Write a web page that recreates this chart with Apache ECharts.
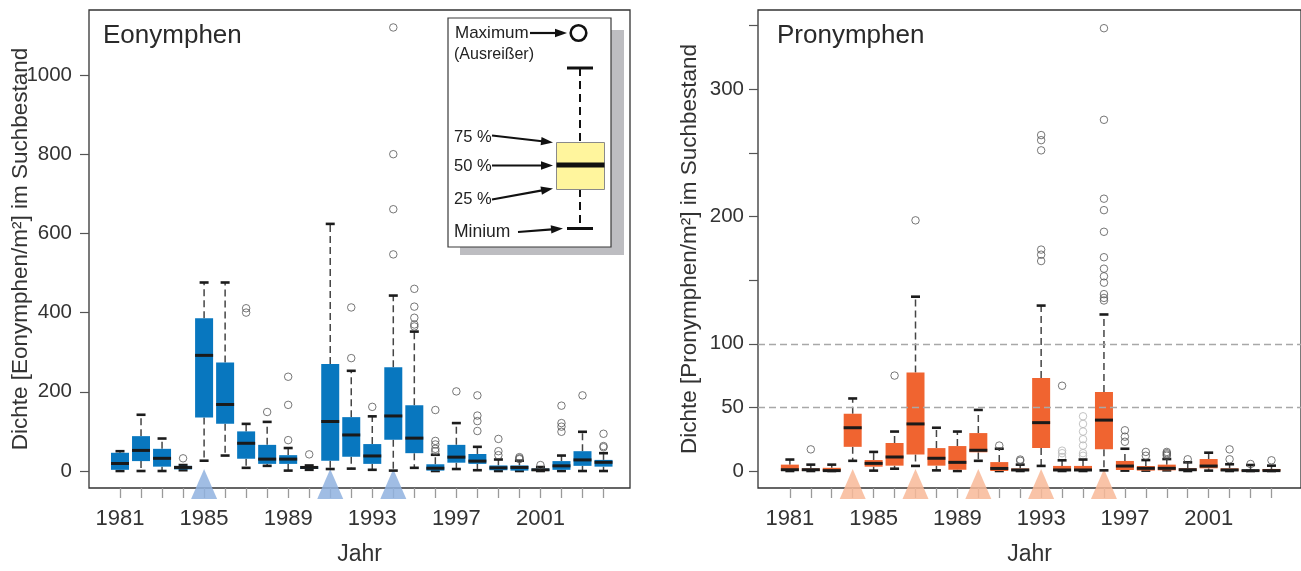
<!DOCTYPE html>
<html>
<head>
<meta charset="utf-8">
<script src="https://cdn.jsdelivr.net/npm/echarts@6/dist/echarts.min.js"></script>
<style>html,body{margin:0;padding:0;background:#fff}#c{width:1301px;height:571px}</style>
</head>
<body>
<div id="c"></div>
<script>
// ---------- data ----------
const years = [1981,1982,1983,1984,1985,1986,1987,1988,1989,1990,1991,1992,1993,1994,1995,1996,1997,1998,1999,2000,2001,2002,2003,2004];
const yearLabels = [1981,1985,1989,1993,1997,2001];

const eoYTicks = [0,200,400,600,800,1000];
const proYTicks = [0,50,100,150,200,250,300,350];
const proYLabels = [0,50,100,200,300];
const proRefLines = [50,100];

// Eonymphen: whisker low, Q1, median, Q3, whisker high
const eoLow  = [0,0,0,2,26,39,8,13,1,3,5,6,3,1,8,0,5,2,0,0,0,0,0,0];
const eoQ1   = [3,25,11,4,135,119,31,18,18,5,26,36,18,79,45,1,21,18,2,1,0,3,13,11];
const eoMed  = [19,52,32,9,292,168,70,30,30,9,125,91,38,139,83,7,35,25,8,9,3,13,28,22];
const eoQ3   = [46,88,56,13,386,274,100,66,40,12,270,136,68,262,166,17,66,43,14,14,6,25,50,28];
const eoHigh = [50,142,82,15,476,476,119,124,58,14,624,253,138,443,352,41,121,61,29,26,10,39,99,45];
const eoOutliers = [[1984,32],[1987,411],[1987,400],[1988,149],[1989,238],[1989,167],[1989,78],[1990,42],
  [1992,413],[1992,285],[1993,162],[1994,1120],[1994,800],[1994,661],[1994,547],
  [1995,460],[1995,415],[1995,387],[1995,370],[1995,365],[1996,154],[1996,76],[1996,67],[1996,56],[1996,50],
  [1997,201],[1998,191],[1998,140],[1998,126],[1998,101],[1999,81],[1999,50],[1999,40],
  [2000,35],[2000,32],[2000,30],[2001,15],[2002,165],[2002,121],[2002,112],[2002,99],[2003,191],
  [2004,94],[2004,63],[2004,60]];
const eoEvents = [1985,1991,1994];

// Pronymphen
const proLow  = [0,0,0,8,0.3,1.8,4,0.5,0,8,0,0,4,0,0,0.5,0.3,0.3,0.5,0,0.3,0,0,0];
const proQ1   = [0,0,0,19,3.4,4.2,13,4.2,1,14.7,0,0,18,0,0,17,0.8,0.3,0.5,0,2.1,0,0,0];
const proMed  = [1,1,0.3,34,6,11,37,10,6.8,16.3,2,0.8,38,0.8,0.8,40,3.9,2.1,2.1,1,3.9,0.8,0.3,0.3];
const proQ3   = [5,2,2.5,45,8.6,22,77.5,18,19.6,29.8,7,2,73,4,4,62,7.9,3.9,5,2.1,9.4,2.1,0.8,1.6];
const proHigh = [9,5,5,57,15,31,137,34,31,48,17.5,5,130,8.4,9,123,17.5,8.6,9.4,6.8,14.4,5.3,4.7,4.2];
const proOutliers = [[1982,17],[1986,75],[1987,197],[1991,20],[1992,9],[1992,8],
  [1993,264],[1993,260],[1993,252],[1993,174],[1993,170],[1993,165],[1994,67],
  [1996,348],[1996,276],[1996,214],[1996,205],[1996,188],[1996,168],[1996,159],[1996,153],[1996,148],[1996,139],[1996,136],[1996,134],
  [1997,32],[1997,27],[1997,23],[1998,15],[1998,12],[1999,15],[1999,14],[1999,13],[1999,12],
  [2000,9.2],[2002,17],[2002,9.2],[2003,5.5],[2004,8.4]];
const proOutliersFaint = [[1994,16],[1994,14],[1994,11],[1995,43],[1995,37],[1995,31],[1995,25],[1995,20],[1995,14],[1995,12]];
const proEvents = [1984,1987,1990,1993,1996];

// ---------- drawing ----------
const FONT = '"Liberation Sans", Arial, Helvetica, sans-serif';
const BLUE = '#0877bf', ORANGE = '#f06430';

function boxRenderer(fill) {
  return function (params, api) {
    const x = api.value(0);
    const pts = [1,2,3,4,5].map(d => api.coord([x, api.value(d)]));
    const px = pts[0][0];
    const lo = pts[0][1], q1 = pts[1][1], md = pts[2][1], q3 = pts[3][1], hi = pts[4][1];
    const bw = 18, cw = 9;
    const dash = {stroke: '#454545', lineWidth: 1.5, lineDash: [7, 4]};
    const cap = {stroke: '#1c1c1c', lineWidth: 2.6};
    return {type: 'group', children: [
      {type: 'line', shape: {x1: px, y1: q3, x2: px, y2: hi}, style: dash},
      {type: 'line', shape: {x1: px, y1: q1, x2: px, y2: lo}, style: dash},
      {type: 'line', shape: {x1: px - cw/2, y1: hi, x2: px + cw/2, y2: hi}, style: cap},
      {type: 'line', shape: {x1: px - cw/2, y1: lo, x2: px + cw/2, y2: lo}, style: cap},
      {type: 'rect', shape: {x: px - bw/2, y: q3, width: bw, height: Math.max(q1 - q3, 0)}, style: {fill: fill}},
      {type: 'line', shape: {x1: px - bw/2, y1: md, x2: px + bw/2, y2: md}, style: {stroke: '#1a1a1a', lineWidth: 3}}
    ]};
  };
}
function triRenderer(fill) {
  return function (params, api) {
    const px = api.coord([api.value(0), 0])[0];
    const bottom = params.coordSys.y + params.coordSys.height;
    return {type: 'polygon', shape: {points: [[px, bottom - 19], [px - 13, bottom + 11], [px + 13, bottom + 11]]},
      style: {fill: fill, opacity: 0.85}};
  };
}
function boxData(lo, q1, md, q3, hi) {
  return years.map((y, i) => [y, lo[i], q1[i], md[i], q3[i], hi[i]]);
}

function xAxisCfg(grid, min, max) {
  return {type: 'value', gridIndex: grid, min: min, max: max,
    axisLine: {show: false, onZero: false}, splitLine: {show: false},
    axisTick: {show: true, customValues: years, length: 10, lineStyle: {color: '#9a9a9a', width: 1.3}},
    axisLabel: {customValues: yearLabels, fontSize: 22, color: '#333', margin: 20, fontFamily: FONT, formatter: v => String(v)},
    name: 'Jahr', nameLocation: 'middle', nameGap: 55, nameMoveOverlap: false,
    nameTextStyle: {fontSize: 23, color: '#333', fontFamily: FONT}};
}
function yAxisCfg(grid, min, max, ticks, labels, name, margin) {
  return {type: 'value', gridIndex: grid, min: min, max: max,
    axisLine: {show: false, onZero: false}, splitLine: {show: false},
    axisTick: {show: true, customValues: ticks, length: 9, lineStyle: {color: '#555', width: 1.2}},
    axisLabel: {customValues: labels, fontSize: 20.5, color: '#333', margin: margin, fontFamily: FONT, formatter: v => String(v)},
    name: name, nameLocation: 'middle', nameGap: 57, nameMoveOverlap: false,
    nameTextStyle: {fontSize: 22.5, color: '#333', fontFamily: FONT}};
}

function arrow(x1, y1, x2, y2) {
  const a = Math.atan2(y2 - y1, x2 - x1), L = 12, W = 4.2;
  const bx = x2 - L * Math.cos(a), by = y2 - L * Math.sin(a);
  const nx = -Math.sin(a), ny = Math.cos(a);
  return [
    {type: 'line', shape: {x1: x1, y1: y1, x2: bx + Math.cos(a), y2: by + Math.sin(a)}, style: {stroke: '#111', lineWidth: 2.2}},
    {type: 'polygon', shape: {points: [[x2, y2], [bx + nx * W, by + ny * W], [bx - nx * W, by - ny * W]]}, style: {fill: '#111'}}
  ];
}
function txt(x, y, s, size) {
  return {type: 'text', x: x, y: y, style: {text: s, fill: '#222', font: size + 'px ' + FONT, verticalAlign: 'middle', align: 'left'}};
}
const legendEls = [
  {type: 'rect', shape: {x: 460, y: 30, width: 164, height: 225}, style: {fill: '#bdbdc1'}},
  {type: 'rect', shape: {x: 448, y: 18, width: 163, height: 229}, style: {fill: '#fff', stroke: '#3a3a3a', lineWidth: 1.2}},
  txt(455, 33, 'Maximum', 17),
  ...arrow(530, 33, 567, 33),
  {type: 'circle', shape: {cx: 578.5, cy: 33, r: 7.8}, style: {fill: 'none', stroke: '#111', lineWidth: 2.6}},
  txt(454, 55, '(Ausreißer)', 16),
  {type: 'line', shape: {x1: 580, y1: 68, x2: 580, y2: 142}, style: {stroke: '#111', lineWidth: 2, lineDash: [8, 5]}},
  {type: 'line', shape: {x1: 580, y1: 189, x2: 580, y2: 228}, style: {stroke: '#111', lineWidth: 2, lineDash: [8, 5]}},
  {type: 'line', shape: {x1: 567, y1: 68, x2: 593, y2: 68}, style: {stroke: '#111', lineWidth: 3}},
  {type: 'line', shape: {x1: 567, y1: 228.5, x2: 593, y2: 228.5}, style: {stroke: '#111', lineWidth: 3}},
  {type: 'rect', shape: {x: 556.5, y: 142.5, width: 48, height: 47}, style: {fill: '#fff59d', stroke: '#8a8a8a', lineWidth: 1}},
  {type: 'line', shape: {x1: 556.5, y1: 165, x2: 604.5, y2: 165}, style: {stroke: '#111', lineWidth: 5}},
  txt(454, 137, '75 %', 16.5),
  ...arrow(492, 135.5, 553, 142.5),
  txt(454, 166, '50 %', 16.5),
  ...arrow(492, 165.5, 553, 165.5),
  txt(454, 199, '25 %', 16.5),
  ...arrow(492, 199.5, 553, 188.5),
  txt(454, 232, 'Minium', 17.5),
  ...arrow(518, 232, 563, 228.5)
];

const chart = echarts.init(document.getElementById('c'), null, {renderer: 'canvas'});
chart.setOption({
  animation: false,
  backgroundColor: '#fff',
  textStyle: {fontFamily: FONT},
  title: [
    {text: 'Eonymphen', left: 98, top: 18, textStyle: {fontSize: 26, fontWeight: 'normal', color: '#2a2a2a', fontFamily: FONT}},
    {text: 'Pronymphen', left: 772, top: 18, textStyle: {fontSize: 26, fontWeight: 'normal', color: '#2a2a2a', fontFamily: FONT}}
  ],
  grid: [
    {left: 89, top: 10, width: 541, height: 478, show: true, borderColor: '#333', borderWidth: 1.3, backgroundColor: 'transparent'},
    {left: 758, top: 10, width: 545, height: 478, show: true, borderColor: '#333', borderWidth: 1.3, backgroundColor: 'transparent'}
  ],
  xAxis: [xAxisCfg(0, 1979.525, 2005.26), xAxisCfg(1, 1979.478, 2005.41)],
  yAxis: [
    yAxisCfg(0, -42.93, 1164.1, eoYTicks, eoYTicks, 'Dichte [Eonymphen/m²] im Suchbestand', 17),
    yAxisCfg(1, -13.36, 362.3, proYTicks, proYLabels, 'Dichte [Pronymphen/m²] im Suchbestand', 14)
  ],
  graphic: {elements: [{type: 'group', z: 100, children: legendEls}]},
  series: [
    {type: 'custom', name: 'eoEvents', xAxisIndex: 0, yAxisIndex: 0, clip: false, z: 1,
      data: eoEvents.map(y => [y]), encode: {x: 0}, renderItem: triRenderer('#8fb1df')},
    {type: 'custom', name: 'eoBoxes', xAxisIndex: 0, yAxisIndex: 0, z: 3,
      data: boxData(eoLow, eoQ1, eoMed, eoQ3, eoHigh), encode: {x: 0, y: [1,2,3,4,5]}, renderItem: boxRenderer(BLUE)},
    {type: 'scatter', name: 'eoOut', xAxisIndex: 0, yAxisIndex: 0, z: 4, symbol: 'circle', symbolSize: 7.5,
      itemStyle: {color: 'rgba(0,0,0,0)', borderColor: '#555', borderWidth: 1}, data: eoOutliers},

    {type: 'custom', name: 'proEvents', xAxisIndex: 1, yAxisIndex: 1, clip: false, z: 1,
      data: proEvents.map(y => [y]), encode: {x: 0}, renderItem: triRenderer('#f8b898')},
    {type: 'scatter', name: 'proOutFaint', xAxisIndex: 1, yAxisIndex: 1, z: 2, symbol: 'circle', symbolSize: 7.5,
      itemStyle: {color: 'rgba(0,0,0,0)', borderColor: '#b5b5b5', borderWidth: 1}, data: proOutliersFaint,
      markLine: {silent: true, symbol: ['none', 'none'], label: {show: false},
        lineStyle: {type: [7, 4], color: '#a8a8a8', width: 1.3},
        data: proRefLines.map(v => ({yAxis: v}))}},
    {type: 'custom', name: 'proBoxes', xAxisIndex: 1, yAxisIndex: 1, z: 3,
      data: boxData(proLow, proQ1, proMed, proQ3, proHigh), encode: {x: 0, y: [1,2,3,4,5]}, renderItem: boxRenderer(ORANGE)},
    {type: 'scatter', name: 'proOut', xAxisIndex: 1, yAxisIndex: 1, z: 4, symbol: 'circle', symbolSize: 7.5,
      itemStyle: {color: 'rgba(0,0,0,0)', borderColor: '#555', borderWidth: 1}, data: proOutliers}
  ]
});
</script>
</body>
</html>
